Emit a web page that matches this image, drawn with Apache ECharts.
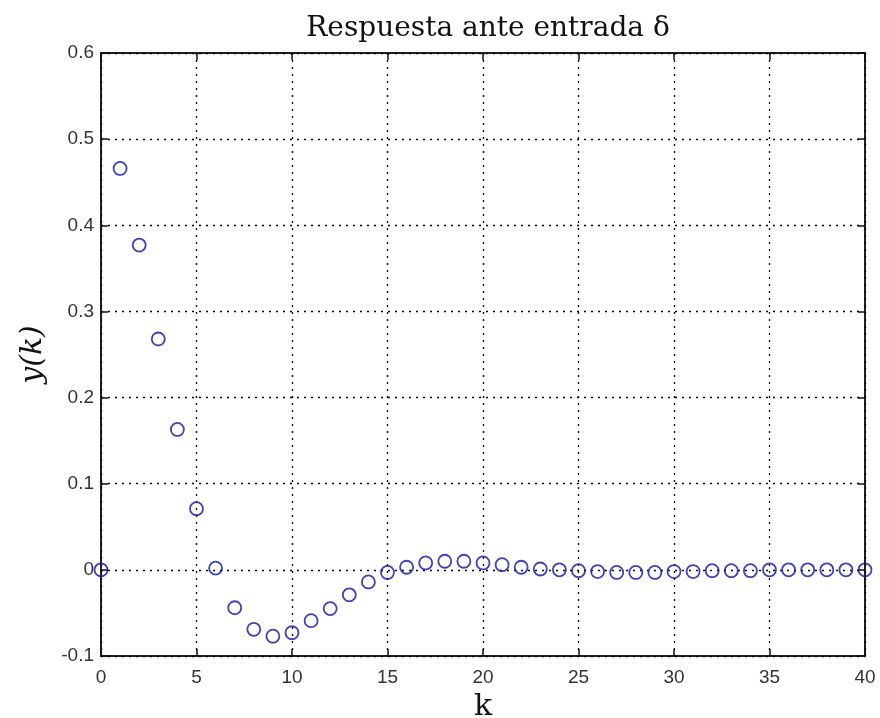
<!DOCTYPE html>
<html>
<head>
<meta charset="utf-8">
<title>Respuesta ante entrada delta</title>
<script src="https://cdn.jsdelivr.net/npm/echarts@6/dist/echarts.min.js"></script>
<style>
    html, body { margin: 0; padding: 0; background: #fff; }
    #chart { width: 880px; height: 718px; }
</style>
</head>
<body>
<div id="chart"></div>
<script>
// datos
var kValues = [0, 1, 2, 3, 4, 5, 6, 7, 8, 9, 10,
               11, 12, 13, 14, 15, 16, 17, 18, 19, 20,
               21, 22, 23, 24, 25, 26, 27, 28, 29, 30,
               31, 32, 33, 34, 35, 36, 37, 38, 39, 40];
var yValues = [0, 0.466, 0.377, 0.268, 0.163, 0.071, 0.002, -0.044, -0.069, -0.077, -0.073,
               -0.059, -0.045, -0.029, -0.014, -0.003, 0.003, 0.008, 0.010, 0.010, 0.008,
               0.006, 0.003, 0.001, 0.000, -0.001, -0.002, -0.003, -0.003, -0.003, -0.002,
               -0.002, -0.001, -0.001, -0.001, 0, 0, 0, 0, 0, 0];
var xTicks = [0, 5, 10, 15, 20, 25, 30, 35, 40];
var yTicks = [-0.1, 0, 0.1, 0.2, 0.3, 0.4, 0.5, 0.6];

var points = [];
for (var i = 0; i < kValues.length; i++) {
    points.push([kValues[i], yValues[i]]);
}

var tickFont = { fontFamily: 'Liberation Sans, Arial, sans-serif', fontSize: 19, color: '#333' };
var gridLine = { show: true, lineStyle: { color: '#000', type: [2, 5], width: 1.3 } };
var boxLine = { show: true, onZero: false, lineStyle: { color: '#111', width: 1.5 } };
var innerTick = { show: true, inside: true, length: 7, lineStyle: { color: '#111', width: 1.5 } };

var chart = echarts.init(document.getElementById('chart'));
var option = {
    backgroundColor: '#fff',
    animation: false,
    title: {
        text: 'Respuesta ante entrada δ',
        left: 483,
        top: 10,
        textAlign: 'center',
        textStyle: { fontFamily: 'DejaVu Serif, serif', fontWeight: 'normal', fontSize: 28, color: '#111' }
    },
    grid: {
        left: 101, right: 15, top: 53, bottom: 62,
        containLabel: false,
        outerBoundsMode: 'none',
        show: true, borderColor: '#111', borderWidth: 1.5
    },
    xAxis: [{
        type: 'value',
        min: xTicks[0], max: xTicks[xTicks.length - 1], interval: 5,
        name: 'k',
        nameLocation: 'middle',
        nameGap: 34,
        nameTextStyle: { fontFamily: 'DejaVu Serif, serif', fontSize: 30, color: '#111' },
        axisLine: boxLine,
        axisTick: innerTick,
        axisLabel: Object.assign({ margin: 12 }, tickFont),
        splitLine: gridLine
    }, {
        type: 'value', position: 'top',
        min: xTicks[0], max: xTicks[xTicks.length - 1], interval: 5,
        axisLine: boxLine,
        axisTick: innerTick,
        axisLabel: { show: false },
        splitLine: { show: false }
    }],
    yAxis: [{
        type: 'value',
        min: yTicks[0], max: yTicks[yTicks.length - 1], interval: 0.1,
        name: 'y(k)',
        nameLocation: 'middle',
        nameGap: 53,
        nameRotate: 90,
        nameTextStyle: { fontFamily: 'DejaVu Serif, serif', fontStyle: 'italic', fontSize: 30, color: '#111' },
        axisLine: boxLine,
        axisTick: innerTick,
        axisLabel: Object.assign({
            margin: 7,
            formatter: function (v) { return String(Math.round(v * 10) / 10); }
        }, tickFont),
        splitLine: gridLine
    }, {
        type: 'value', position: 'right',
        min: yTicks[0], max: yTicks[yTicks.length - 1], interval: 0.1,
        axisLine: boxLine,
        axisTick: innerTick,
        axisLabel: { show: false },
        splitLine: { show: false }
    }],
    series: [{
        name: 'y(k)',
        type: 'scatter',
        xAxisIndex: 0,
        yAxisIndex: 0,
        symbol: 'circle',
        symbolSize: 13,
        itemStyle: { color: 'rgba(0,0,0,0)', borderColor: '#1212a0', borderWidth: 1.8 },
        data: points,
        z: 5
    }]
};
chart.setOption(option);
</script>
</body>
</html>
